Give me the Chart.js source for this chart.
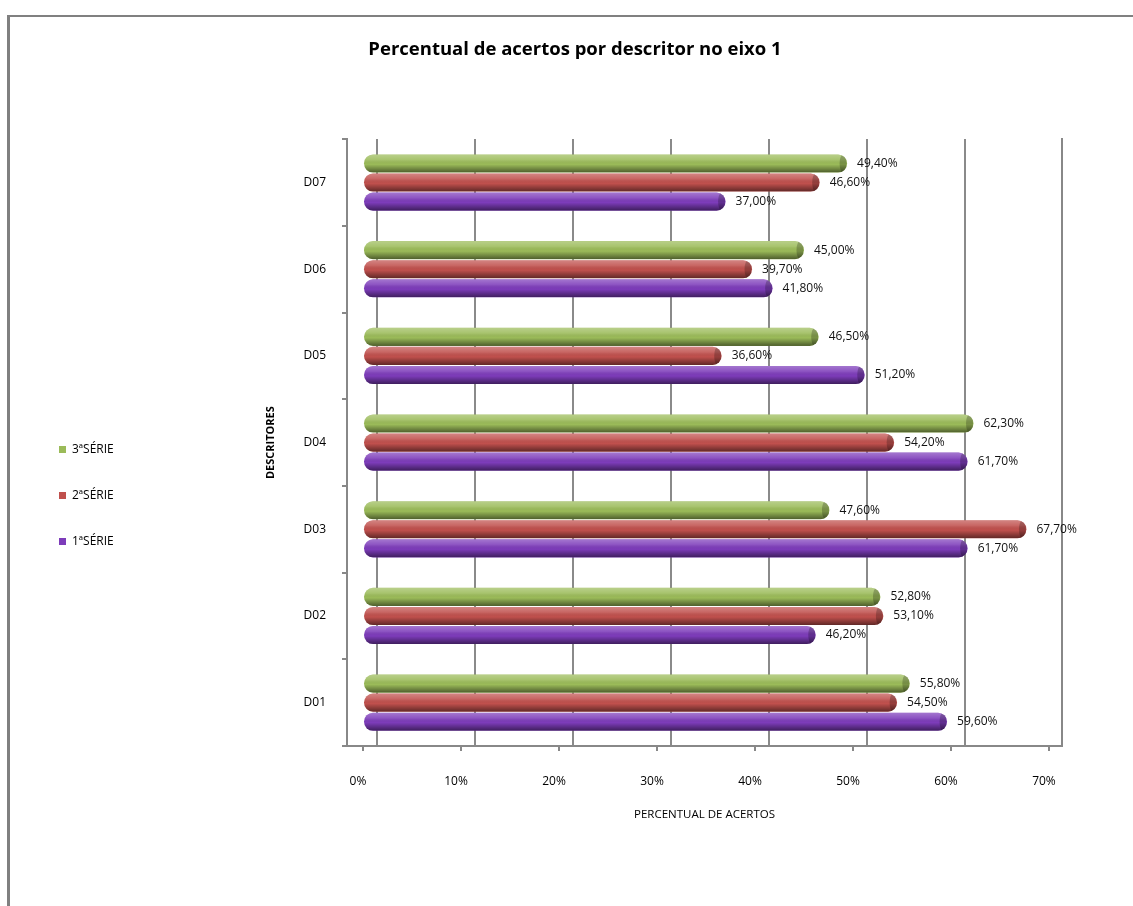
<!DOCTYPE html>
<html>
<head>
<meta charset="utf-8">
<script src="https://cdn.jsdelivr.net/npm/chart.js@4.4.1/dist/chart.umd.min.js"></script>
<style>
  html, body { margin: 0; padding: 0; background: #fff; overflow: hidden; }
  #frame { position: absolute; left: 7px; top: 15px; width: 1126px; height: 891px;
           border-left: 3px solid #808080; border-top: 2px solid #808080; box-sizing: border-box; }
  #chart { position: absolute; left: 0; top: 0; }
</style>
</head>
<body>
<div id="frame"></div>
<canvas id="chart" width="1133" height="906"></canvas>
<script>
const categories = ['D01', 'D02', 'D03', 'D04', 'D05', 'D06', 'D07'];
const serie1 = [59.6, 46.2, 61.7, 61.7, 51.2, 41.8, 37.0];   // 1ª série
const serie2 = [54.5, 53.1, 67.7, 54.2, 36.6, 39.7, 46.6];   // 2ª série
const serie3 = [55.8, 52.8, 47.6, 62.3, 46.5, 45.0, 49.4];   // 3ª série
const seriesNames = ['1ªSÉRIE', '2ªSÉRIE', '3ªSÉRIE'];
const xTickValues = [0, 10, 20, 30, 40, 50, 60, 70];

const FONT = "'Open Sans', 'Liberation Sans', sans-serif";
const fmtPct = v => v.toFixed(2).replace('.', ',') + '%';

// excel draws D01 at the bottom and the 1ª série lowest in each group
const rev = arr => arr.slice().reverse();

// cylinder look: light top, dark bottom, darker end cap
const cylinderShade = {
  id: 'cylinderShade',
  afterDatasetsDraw(chart) {
    const ctx = chart.ctx;
    chart.data.datasets.forEach((ds, i) => {
      chart.getDatasetMeta(i).data.forEach(bar => {
        const { x, y, base, height } = bar.getProps(['x', 'y', 'base', 'height'], true);
        const top = y - height / 2, left = Math.min(base, x), w = Math.abs(x - base), r = height / 2;
        ctx.save();
        ctx.beginPath();
        ctx.roundRect(left, top, w, height, r);
        ctx.clip();
        const g = ctx.createLinearGradient(0, top, 0, top + height);
        g.addColorStop(0, 'rgba(255,255,255,0.30)');
        g.addColorStop(0.3, 'rgba(255,255,255,0.12)');
        g.addColorStop(0.55, 'rgba(0,0,0,0)');
        g.addColorStop(1, 'rgba(0,0,0,0.50)');
        ctx.fillStyle = g;
        ctx.fillRect(left, top, w, height);
        ctx.beginPath();
        ctx.ellipse(x - 4, y, 3.5, r, 0, 0, Math.PI * 2);
        ctx.fillStyle = 'rgba(0,0,0,0.22)';
        ctx.fill();
        ctx.restore();
      });
    });
  }
};

const valueLabels = {
  id: 'valueLabels',
  afterDatasetsDraw(chart) {
    const ctx = chart.ctx;
    ctx.save();
    ctx.font = '12px ' + FONT;
    ctx.fillStyle = '#111';
    ctx.textAlign = 'left';
    ctx.textBaseline = 'middle';
    chart.data.datasets.forEach((ds, i) => {
      chart.getDatasetMeta(i).data.forEach((bar, j) => {
        const { x, y } = bar.getProps(['x', 'y'], true);
        ctx.fillText(fmtPct(ds.data[j]), x + 10, y);
      });
    });
    ctx.restore();
  }
};

const barStyle = { borderRadius: 9, borderSkipped: false, borderWidth: 0 };

new Chart(document.getElementById('chart'), {
  type: 'bar',
  data: {
    labels: rev(categories),
    datasets: [
      { label: seriesNames[2], data: rev(serie3), backgroundColor: '#9BBB59', ...barStyle },
      { label: seriesNames[1], data: rev(serie2), backgroundColor: '#C0504D', ...barStyle },
      { label: seriesNames[0], data: rev(serie1), backgroundColor: '#7D3CBA', ...barStyle }
    ]
  },
  options: {
    indexAxis: 'y',
    responsive: false,
    animation: false,
    categoryPercentage: 0.66,
    barPercentage: 0.95,
    layout: { padding: { top: 20, left: 25, right: 8, bottom: 84 } },
    plugins: {
      title: {
        display: true,
        text: 'Percentual de acertos por descritor no eixo 1',
        color: '#000',
        font: { family: FONT, size: 18.5, weight: 'bold' },
        padding: { top: 19, bottom: 78 }
      },
      legend: {
        position: 'left',
        align: 'start',
        fullSize: false,
        title: { display: true, text: '', font: { size: 11 }, padding: { top: 257, bottom: 0 } },
        labels: {
          boxWidth: 7, boxHeight: 7, padding: 34, color: '#000',
          font: { family: FONT, size: 12 }
        }
      },
      tooltip: { enabled: false }
    },
    scales: {
      x: {
        min: -1.633, max: 71.33,
        afterBuildTicks: s => { s.ticks = xTickValues.map(v => ({ value: v })); },
        afterFit: s => { s.height = 76; },
        ticks: { callback: v => v + '%', color: '#000', padding: 23, labelOffset: -5,
                 font: { family: FONT, size: 12 } },
        grid: { drawOnChartArea: false, tickLength: 5, color: '#888', lineWidth: 2 },
        border: { display: true, color: '#888', width: 2 },
        title: { display: true, text: 'PERCENTUAL DE ACERTOS', color: '#000',
                 font: { family: FONT, size: 11.5 }, padding: { top: 19, bottom: 0 } }
      },
      // back-wall gridlines sit a little to the right of the bars (3D depth)
      x2: {
        type: 'linear', position: 'top',
        min: -3.06, max: 69.9,
        afterBuildTicks: s => { s.ticks = xTickValues.filter(v => v <= s.max).map(v => ({ value: v })); },
        afterFit: s => { s.height = 0; },
        ticks: { display: false },
        grid: { drawTicks: false, color: '#8a8a8a', lineWidth: 2 },
        border: { display: false }
      },
      y: {
        afterFit: s => { s.width = 322 - (s.chart.legend && s.chart.legend.width || 100); },
        ticks: { color: '#000', padding: 16, font: { family: FONT, size: 12 } },
        grid: { drawOnChartArea: false, tickLength: 5, color: '#888', lineWidth: 2 },
        border: { display: true, color: '#888', width: 2 },
        title: { display: true, text: 'DESCRITORES', color: '#000',
                 font: { family: FONT, size: 11, weight: 'bold' }, padding: { top: 140, bottom: 0 } }
      },
      // right wall of the plot
      y2: {
        type: 'category', position: 'right',
        afterFit: s => { s.width = 63; },
        ticks: { display: false },
        grid: { drawOnChartArea: false, drawTicks: false },
        border: { display: true, color: '#888', width: 2 }
      }
    }
  },
  plugins: [cylinderShade, valueLabels]
});
</script>
</body>
</html>
